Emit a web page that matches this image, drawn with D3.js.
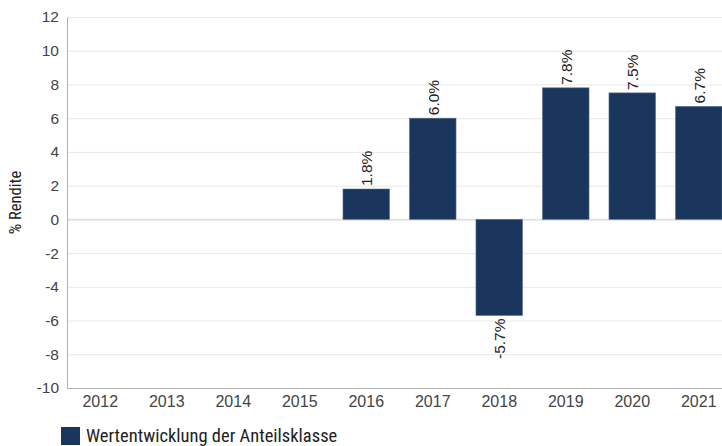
<!DOCTYPE html>
<html lang="de">
<head>
<meta charset="utf-8">
<script src="https://cdn.jsdelivr.net/npm/d3@7"></script>
<style>
  body { margin: 0; background: #fff; }
  text { font-family: "Liberation Sans", Arial, sans-serif; }
  .cond { font-family: "Roboto Condensed", "Liberation Sans Narrow", sans-serif; }
</style>
</head>
<body>
<script>
// Data
let years = ["2012", "2013", "2014", "2015", "2016", "2017", "2018", "2019", "2020", "2021"];
let returns = [null, null, null, null, 1.8, 6.0, -5.7, 7.8, 7.5, 6.7];
let yTicks = [12, 10, 8, 6, 4, 2, 0, -2, -4, -6, -8, -10];
let seriesName = "Wertentwicklung der Anteilsklasse";
let axisTitle = "% Rendite";

let w = 722, h = 446;
let plotLeft = 67, plotRight = 732, plotTop = 17, plotBottom = 388;

let svg = d3.select("body").append("svg")
  .attr("width", w).attr("height", h);

let x = d3.scaleBand().domain(years).range([plotLeft, plotRight]).paddingInner(0.3).paddingOuter(0.15);
let y = d3.scaleLinear().domain([-10, 12]).range([plotBottom, plotTop]);

// Gridlines
svg.append("g").selectAll("line")
  .data(yTicks.filter(d => d !== -10))
  .enter().append("line")
    .attr("x1", plotLeft).attr("x2", w)
    .attr("y1", d => y(d) + 0.5).attr("y2", d => y(d) + 0.5)
    .attr("stroke", d => d === 0 ? "#e2e2e2" : "#e8e8e8")
    .attr("stroke-width", d => d === 0 ? 2 : 1);

// Y axis
let yAxis = svg.append("g")
  .attr("transform", `translate(${plotLeft},0)`)
  .call(d3.axisLeft(y).tickValues(yTicks).tickSize(0).tickPadding(8).tickFormat(d => String(d)));
yAxis.select(".domain").attr("stroke", "#b0b0b0");
yAxis.selectAll("text")
  .attr("font-size", 15.5).attr("fill", "#444")
  .attr("font-family", "Liberation Sans, Arial, sans-serif");

// X axis
let xAxis = svg.append("g")
  .attr("transform", `translate(0,${plotBottom})`)
  .call(d3.axisBottom(x).tickSize(0).tickPadding(8));
xAxis.select(".domain").attr("stroke", "#b0b0b0").attr("d", `M${plotLeft},0.5H${w}`);
xAxis.selectAll("text")
  .attr("font-size", 16).attr("fill", "#444")
  .attr("font-family", "Liberation Sans, Arial, sans-serif");

// Bars
let data = years.map((yr, i) => ({ year: yr, value: returns[i] })).filter(d => d.value !== null);

svg.append("g").selectAll("rect")
  .data(data)
  .enter().append("rect")
    .attr("x", d => x(d.year))
    .attr("width", x.bandwidth())
    .attr("y", d => y(Math.max(0, d.value)))
    .attr("height", d => Math.abs(y(d.value) - y(0)))
    .attr("fill", "#1b365d")
    .attr("stroke", "#5a7193")
    .attr("stroke-width", 0.6);

// Value labels
svg.append("g").selectAll("text")
  .data(data)
  .enter().append("text")
    .attr("transform", d => {
      let cx = x(d.year) + x.bandwidth() / 2 + 6;
      let cy = d.value >= 0 ? y(d.value) - 3 : y(d.value) + 3;
      return `translate(${cx},${cy}) rotate(-90)`;
    })
    .attr("text-anchor", d => d.value >= 0 ? "start" : "end")
    .attr("font-size", 15.5)
    .attr("fill", "#222")
    .text(d => d.value.toFixed(1) + "%");

// Axis title
svg.append("text")
  .attr("class", "cond")
  .attr("transform", `translate(21,${(plotTop + plotBottom) / 2}) rotate(-90)`)
  .attr("text-anchor", "middle")
  .attr("font-size", 16.5)
  .attr("fill", "#222")
  .text(axisTitle);

// Legend
svg.append("rect")
  .attr("x", 61).attr("y", 427).attr("width", 19).attr("height", 18)
  .attr("fill", "#1b365d");
svg.append("text")
  .attr("class", "cond")
  .attr("x", 86).attr("y", 441.5)
  .attr("font-size", 18.5)
  .attr("fill", "#222")
  .text(seriesName);
</script>
</body>
</html>
